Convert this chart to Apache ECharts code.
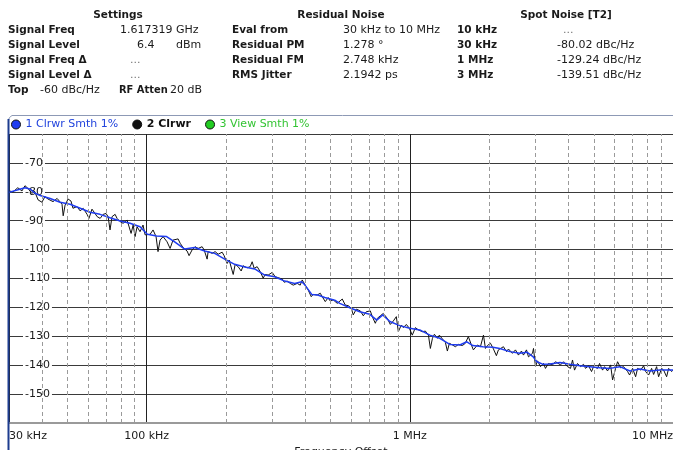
<!DOCTYPE html>
<html>
<head>
<meta charset="utf-8">
<script src="https://cdn.jsdelivr.net/npm/echarts@6/dist/echarts.min.js"></script>
<style>
html,body{margin:0;padding:0;background:#fff;}
#chart{width:673px;height:450px;}
</style>
</head>
<body>
<div id="chart"></div>
<script>
// ---------- data ----------
// Trace 1: Clrwr Smth 1% (blue), frequency offset in kHz and level in dBc/Hz
var smoothFreqKHz = [30,32.2,34.5,36.0,37.7,39.4,43.0,46.9,51.2,55.9,61.0,66.5,72.6,79.3,86.5,94.4,100.6,109.1,119.1,127.8,139.5,152.2,166.2,181.4,198.0,216.1,235.9,257.4,281.0,306.7,334.7,365.3,388.5,398.9,424.1,446.9,475.2,518.6,541.9,591.4,645.5,704.5,749.0,789.4,839.5,916.2,1000,1091,1191,1300,1419,1549,1647,1736,1895,2068,2198,2399,2619,2786,2936,3041,3211,3406,3717,4057,4428,4833,5275,5758,6285,6860,7487,8172,8920,10000];
var smoothDb = [-80.2,-79.4,-78.6,-79.0,-80.5,-81.3,-82.3,-83.6,-84.3,-85.7,-87.1,-87.8,-89.0,-90.1,-90.9,-92.1,-94.7,-95.3,-95.5,-97.3,-99.8,-99.3,-100.5,-101.3,-103.3,-105.1,-106.0,-106.7,-108.8,-109.4,-110.9,-111.7,-111.1,-112.2,-115.5,-115.7,-116.6,-117.5,-118.6,-120.1,-121.5,-122.4,-124.4,-122.6,-124.9,-126.3,-127.2,-127.8,-129.6,-130.7,-132.8,-133.0,-131.9,-133.2,-133.6,-133.8,-134.2,-135.3,-135.9,-135.5,-137.0,-138.8,-139.7,-139.6,-139.1,-139.7,-140.2,-140.5,-140.9,-141.1,-140.5,-142.0,-141.3,-142.0,-141.7,-141.7];

// Trace 2: Clrwr (black)
var rawFreqKHz = [30.0,31.1,32.4,33.6,34.5,35.4,36.6,37.6,38.7,40.0,41.1,42.2,44.1,45.7,47.7,48.2,49.0,50.3,51.6,52.5,54.4,55.9,57.4,59.4,60.4,62.0,62.6,64.9,66.6,68.4,70.1,71.4,72.6,73.9,75.9,77.2,79.3,81.4,84.3,85.1,87.3,88.9,90.4,92.0,94.4,96.9,98.7,100.4,103.1,105.8,108.6,110.5,112.5,115.5,119.6,122.8,126.0,131.7,134.1,137.6,142.5,145.0,148.9,152.8,156.9,162.5,165.4,169.8,171.3,177.4,182.1,187.0,193.6,197.0,202.3,205.9,209.5,213.3,217.0,222.7,228.7,232.7,241.0,247.5,251.8,256.3,263.0,270.1,277.3,282.2,289.7,300.0,308.0,316.2,327.5,333.3,342.1,351.3,360.6,373.4,383.3,390.1,400.5,411.2,422.1,429.6,444.9,456.8,464.9,477.3,489.9,498.5,511.8,530.1,553.8,568.6,583.7,599.2,609.8,626.1,648.4,665.7,683.4,707.8,720.3,739.5,752.4,772.5,793.2,821.3,843.3,865.8,888.8,904.4,928.5,945.0,970.1,995.9,1022,1050,1078,1116,1146,1177,1197,1219,1240,1273,1295,1330,1365,1389,1414,1452,1490,1530,1584,1626,1669,1714,1744,1807,1855,1905,1938,1972,2025,2079,2133,2171,2209,2268,2330,2370,2455,2520,2587,2656,2703,2775,2824,2925,2951,3003,3056,3137,3221,3277,3364,3484,3577,3640,3738,3837,3974,4080,4152,4225,4337,4453,4572,4652,4776,4903,4990,5168,5259,5399,5494,5641,5792,5894,6051,6157,6321,6490,6721,6840,7022,7210,7335,7532,7733,7869,8078,8293,8440,8665,8817,9052,9213,9457,9624,9880,10000];
var rawDb = [-79.7,-80.0,-78.6,-79.7,-77.9,-78.8,-80.5,-80.0,-82.8,-83.6,-81.7,-82.5,-83.4,-82.3,-84.3,-88.3,-84.6,-82.5,-83.2,-85.7,-85.1,-86.6,-85.7,-87.8,-89.2,-86.0,-85.5,-88.6,-89.2,-87.8,-87.5,-88.6,-93.2,-88.6,-87.8,-89.2,-90.3,-90.9,-89.8,-90.3,-94.4,-91.5,-95.5,-92.1,-93.8,-91.5,-94.9,-94.4,-94.7,-93.2,-95.5,-100.7,-96.7,-95.5,-97.3,-99.6,-96.7,-96.3,-97.8,-99.3,-100.5,-102.1,-100.1,-99.0,-99.6,-99.0,-100.1,-103.3,-100.7,-101.3,-100.7,-101.6,-100.9,-102.1,-104.8,-103.6,-103.0,-108.6,-105.1,-105.9,-107.4,-105.6,-106.3,-105.9,-104.2,-106.5,-105.9,-107.6,-109.9,-108.6,-108.8,-107.9,-109.4,-109.7,-110.2,-111.3,-110.9,-111.7,-112.3,-111.7,-112.3,-110.5,-112.3,-114.0,-116.3,-115.5,-115.7,-115.1,-116.3,-118.0,-116.6,-117.8,-117.4,-118.6,-117.1,-119.2,-119.4,-120.3,-122.6,-120.6,-121.2,-122.9,-121.5,-121.2,-123.2,-125.5,-123.8,-122.9,-122.1,-123.8,-125.9,-124.7,-123.2,-128.4,-126.1,-127.0,-125.9,-127.2,-129.6,-127.0,-127.8,-128.4,-128.2,-129.6,-134.2,-130.7,-129.3,-130.7,-129.6,-130.9,-132.1,-135.1,-132.4,-133.0,-133.6,-132.8,-133.2,-132.4,-130.1,-133.0,-134.7,-133.0,-133.6,-129.6,-134.2,-133.2,-132.4,-134.4,-136.7,-134.7,-134.4,-133.6,-135.3,-134.4,-135.9,-134.7,-136.5,-135.1,-136.5,-134.7,-137.1,-135.9,-134.2,-140.5,-138.5,-140.5,-139.4,-141.1,-139.4,-139.9,-138.8,-138.2,-139.9,-138.8,-140.5,-141.1,-138.2,-141.7,-139.4,-140.5,-139.7,-141.1,-140.2,-142.2,-140.5,-141.1,-139.4,-141.7,-140.5,-142.0,-139.9,-145.1,-141.1,-138.8,-140.9,-140.5,-142.2,-143.4,-141.1,-144.0,-141.1,-141.7,-140.2,-142.2,-143.4,-141.1,-143.2,-140.5,-144.0,-141.1,-141.7,-144.0,-141.1,-142.2,-141.7];

// Trace 3: View Smth 1% (legend only, no visible data)
var viewFreqKHz = [];
var viewDb = [];

var seriesNames = ['1 Clrwr Smth 1%', '2 Clrwr', '3 View Smth 1%'];

// axis ticks
var xTickValues = [30000, 100000, 1000000, 10000000];
var xTickLabels = ['30 kHz', '100 kHz', '1 MHz', '10 MHz'];
var xMinorGridHz = [40000,50000,60000,70000,80000,90000,200000,300000,400000,500000,600000,700000,800000,900000,2000000,3000000,4000000,5000000,6000000,7000000,8000000,9000000];
var yMin = -160, yMax = -60, yStep = 10;

// header table texts
var settingsTitle = 'Settings';
var settingsLabels = ['Signal Freq', 'Signal Level', 'Signal Freq \u0394', 'Signal Level \u0394'];
var settingsValues = ['1.617319 GHz', '6.4', '...', '...'];
var residualTitle = 'Residual Noise';
var residualLabels = ['Eval from', 'Residual PM', 'Residual FM', 'RMS Jitter'];
var residualValues = ['30 kHz to 10 MHz', '1.278 \u00b0', '2.748 kHz', '2.1942 ps'];
var spotTitle = 'Spot Noise [T2]';
var spotOffsets = ['10 kHz', '30 kHz', '1 MHz', '3 MHz'];
var spotValues = ['...', '-80.02 dBc/Hz', '-129.24 dBc/Hz', '-139.51 dBc/Hz'];

// ---------- build ----------
function pairs(fk, db) {
  var out = [];
  for (var i = 0; i < fk.length; i++) out.push([fk[i] * 1000, db[i]]);
  return out;
}

var FONT = 'DejaVu Sans, Verdana, sans-serif';
var TXT = '#1a1a1a';
var rowsY = [30, 45, 60, 75];
var g = [];
function txt(x, y, s, opt) {
  opt = opt || {};
  var fam = opt.family || FONT;
  g.push({
    type: 'text', silent: true, z: 10,
    style: {
      x: x, y: y, text: s,
      fill: opt.color || TXT,
      font: (opt.bold ? 'bold ' : '') + (opt.size || (opt.bold ? 10.5 : 11)) + 'px ' + fam,
      textAlign: opt.align || 'left',
      textVerticalAlign: 'middle'
    }
  });
}
txt(118, 15, settingsTitle, {bold: true, align: 'center'});
txt(341, 15, residualTitle, {bold: true, align: 'center'});
txt(566, 15, spotTitle, {bold: true, align: 'center'});
for (var i = 0; i < 4; i++) {
  txt(8, rowsY[i], settingsLabels[i], {bold: true});
  txt(232, rowsY[i], residualLabels[i], {bold: true});
  txt(343, rowsY[i], residualValues[i]);
  txt(457, rowsY[i], spotOffsets[i], {bold: true});
}
txt(120, rowsY[0], settingsValues[0]);
txt(137, rowsY[1], settingsValues[1]);
txt(176, rowsY[1], 'dBm');
txt(130, rowsY[2], settingsValues[2], {color: '#777'});
txt(130, rowsY[3], settingsValues[3], {color: '#777'});
txt(563, rowsY[0], spotValues[0], {color: '#777'});
for (var j = 1; j < 4; j++) txt(557, rowsY[j], spotValues[j]);
txt(8, 90, 'Top', {bold: true});
txt(40, 90, '-60 dBc/Hz');
txt(119, 90, 'RF Atten', {bold: true, size: 11, family: 'DejaVu Sans Condensed, DejaVu Sans, sans-serif'});
txt(170, 90, '20 dB');

// panel frame
g.push({type: 'polyline', silent: true, z: 5,
  shape: {points: [[8.5, 450], [8.5, 120], [9.5, 117.5], [12, 115.5], [673, 115.5]]},
  style: {stroke: '#8d99b5', fill: null, lineWidth: 1}});
g.push({type: 'line', silent: true, z: 6,
  shape: {x1: 8.5, y1: 119, x2: 8.5, y2: 450},
  style: {stroke: '#1d3c8f', lineWidth: 2}});

var chart = echarts.init(document.getElementById('chart'), null, {renderer: 'canvas'});
chart.setOption({
  animation: false,
  backgroundColor: '#fff',
  textStyle: {fontFamily: FONT},
  grid: {left: 9, right: 0, top: 134, bottom: 27, containLabel: false, outerBoundsMode: 'none'},
  legend: {
    left: 11, top: 119, padding: 0, icon: 'circle',
    itemWidth: 9, itemHeight: 9, itemGap: 14,
    itemStyle: {borderColor: '#111', borderWidth: 1},
    textStyle: {fontSize: 11, fontFamily: FONT},
    data: [
      {name: seriesNames[0], textStyle: {color: '#2244dd'}},
      {name: seriesNames[1], textStyle: {color: '#111', fontWeight: 'bold'}},
      {name: seriesNames[2], textStyle: {color: '#33c433'}}
    ]
  },
  xAxis: {
    type: 'log', logBase: 10, min: 30000, max: 10000000,
    name: 'Frequency Offset', nameLocation: 'middle', nameGap: 20,
    nameTextStyle: {fontSize: 11, color: TXT, fontFamily: FONT, verticalAlign: 'top'},
    axisLine: {show: true, onZero: false, lineStyle: {color: '#9a9a9a', width: 2}},
    axisTick: {show: false},
    axisLabel: {
      show: true, margin: 8, fontSize: 11, color: TXT, fontFamily: FONT,
      alignMinLabel: 'left', alignMaxLabel: 'right',
      formatter: function (v) {
        for (var k = 0; k < xTickValues.length; k++) {
          if (Math.abs(v / xTickValues[k] - 1) < 0.01) return xTickLabels[k];
        }
        return '';
      }
    },
    splitLine: {show: true, lineStyle: {color: '#222', width: 1}},
    minorTick: {show: false}, minorSplitLine: {show: false}
  },
  yAxis: {
    type: 'value', min: yMin, max: yMax, interval: yStep,
    axisLine: {show: false}, axisTick: {show: false},
    axisLabel: {
      inside: true, margin: 14, showMinLabel: false, showMaxLabel: false,
      fontSize: 11, color: TXT, fontFamily: FONT,
      backgroundColor: '#fff', padding: [0, 2, 0, 2]
    },
    splitLine: {show: true, lineStyle: {color: '#3a3a3a', width: 1}}
  },
  series: [
    {
      name: seriesNames[1], type: 'line', data: pairs(rawFreqKHz, rawDb),
      showSymbol: false, symbol: 'none', z: 3, color: '#111',
      lineStyle: {color: '#111', width: 1},
      markLine: {
        silent: true, symbol: ['none', 'none'], label: {show: false},
        lineStyle: {color: '#9a9a9a', width: 1, type: [4, 3]},
        emphasis: {disabled: true},
        data: xMinorGridHz.map(function (f) { return {xAxis: f}; })
      }
    },
    {
      name: seriesNames[0], type: 'line', data: pairs(smoothFreqKHz, smoothDb),
      showSymbol: false, symbol: 'none', z: 4, color: '#1f3cf0',
      lineStyle: {color: '#1f3cf0', width: 1.5}
    },
    {
      name: seriesNames[2], type: 'line', data: pairs(viewFreqKHz, viewDb),
      showSymbol: false, symbol: 'none', z: 2, color: '#22cc22',
      lineStyle: {color: '#22cc22', width: 1}
    }
  ],
  graphic: g
});
</script>
</body>
</html>
